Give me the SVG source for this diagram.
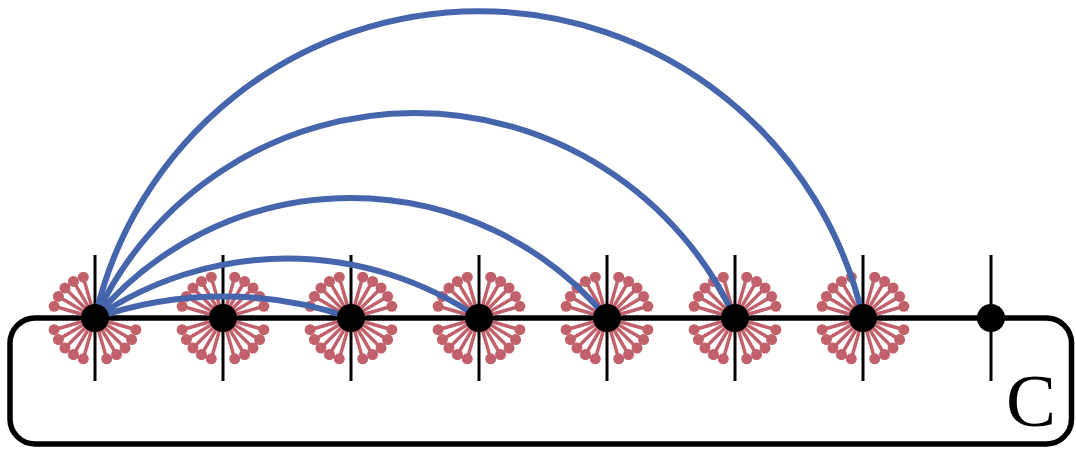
<svg xmlns="http://www.w3.org/2000/svg" xmlns:xlink="http://www.w3.org/1999/xlink" width="1076" height="450" viewBox="0 0 1076 450">
  <style>
    .spoke { stroke: #c1616b; stroke-width: 3.5; fill: none; }
    .tip { fill: #c1616b; }
    .vline { stroke: #000; stroke-width: 3; }
    .dot { fill: #000; }
    .arc { stroke: #4565ad; stroke-width: 6; fill: none; }
    .frame { fill: none; stroke: #000; stroke-width: 5.5; }
    .label { font-family: "Liberation Serif", "Times New Roman", serif; font-size: 75px; fill: #000; }
  </style>
  <defs>
    <g id="quad">
      <line class="spoke" x1="0" y1="0" x2="11.71" y2="-40.86"/>
      <line class="spoke" x1="0" y1="0" x2="21.57" y2="-36.62"/>
      <line class="spoke" x1="0" y1="0" x2="30.05" y2="-30.05"/>
      <line class="spoke" x1="0" y1="0" x2="36.62" y2="-21.57"/>
      <line class="spoke" x1="0" y1="0" x2="40.86" y2="-11.71"/>
      <circle class="tip" cx="11.71" cy="-40.86" r="5.5"/>
      <circle class="tip" cx="21.57" cy="-36.62" r="5.5"/>
      <circle class="tip" cx="30.05" cy="-30.05" r="5.5"/>
      <circle class="tip" cx="36.62" cy="-21.57" r="5.5"/>
      <circle class="tip" cx="40.86" cy="-11.71" r="5.5"/>
    </g>
    <g id="star">
      <use xlink:href="#quad"/>
      <use xlink:href="#quad" transform="rotate(90)"/>
      <use xlink:href="#quad" transform="rotate(180)"/>
      <use xlink:href="#quad" transform="rotate(270)"/>
    </g>
    <g id="star3">
      <use xlink:href="#quad" transform="rotate(90)"/>
      <use xlink:href="#quad" transform="rotate(180)"/>
      <use xlink:href="#quad" transform="rotate(270)"/>
    </g>
  </defs>

  <g id="frame">
    <rect class="frame" x="10" y="318" width="1061.5" height="126" rx="25" ry="25"/>
  </g>

  <g id="nodes">
    <g id="node-1" transform="translate(95,318)">
      <use xlink:href="#star3"/>
      <line class="vline" x1="0" y1="-63" x2="0" y2="63"/>
    </g>
    <g id="node-2" transform="translate(223,318)">
      <use xlink:href="#star"/>
      <line class="vline" x1="0" y1="-63" x2="0" y2="63"/>
    </g>
    <g id="node-3" transform="translate(351,318)">
      <use xlink:href="#star"/>
      <line class="vline" x1="0" y1="-63" x2="0" y2="63"/>
    </g>
    <g id="node-4" transform="translate(479,318)">
      <use xlink:href="#star"/>
      <line class="vline" x1="0" y1="-63" x2="0" y2="63"/>
    </g>
    <g id="node-5" transform="translate(607,318)">
      <use xlink:href="#star"/>
      <line class="vline" x1="0" y1="-63" x2="0" y2="63"/>
    </g>
    <g id="node-6" transform="translate(735,318)">
      <use xlink:href="#star"/>
      <line class="vline" x1="0" y1="-63" x2="0" y2="63"/>
    </g>
    <g id="node-7" transform="translate(863,318)">
      <use xlink:href="#star"/>
      <line class="vline" x1="0" y1="-63" x2="0" y2="63"/>
    </g>
    <g id="node-8" transform="translate(991,318)">
      <line class="vline" x1="0" y1="-63" x2="0" y2="63"/>
    </g>
  </g>

  <g id="connectors">
    <path class="arc" d="M95,318 A390,390 0 0 1 351,318"/>
    <path class="arc" d="M95,318 A340,340 0 0 1 479,318"/>
    <path class="arc" d="M95,318 A333,333 0 0 1 607,318"/>
    <path class="arc" d="M95,318 A352.3,352.3 0 0 1 735,318"/>
    <path class="arc" d="M95,318 A393.7,393.7 0 0 1 863,318"/>
  </g>

  <g id="node-dots">
    <circle id="node-1-dot" class="dot" cx="95" cy="318" r="14"/>
    <circle id="node-2-dot" class="dot" cx="223" cy="318" r="14"/>
    <circle id="node-3-dot" class="dot" cx="351" cy="318" r="14"/>
    <circle id="node-4-dot" class="dot" cx="479" cy="318" r="14"/>
    <circle id="node-5-dot" class="dot" cx="607" cy="318" r="14"/>
    <circle id="node-6-dot" class="dot" cx="735" cy="318" r="14"/>
    <circle id="node-7-dot" class="dot" cx="863" cy="318" r="14"/>
    <circle id="node-8-dot" class="dot" cx="991" cy="318" r="14"/>
  </g>

  <g id="label">
    <text class="label" x="1006" y="426">C</text>
  </g>
</svg>
